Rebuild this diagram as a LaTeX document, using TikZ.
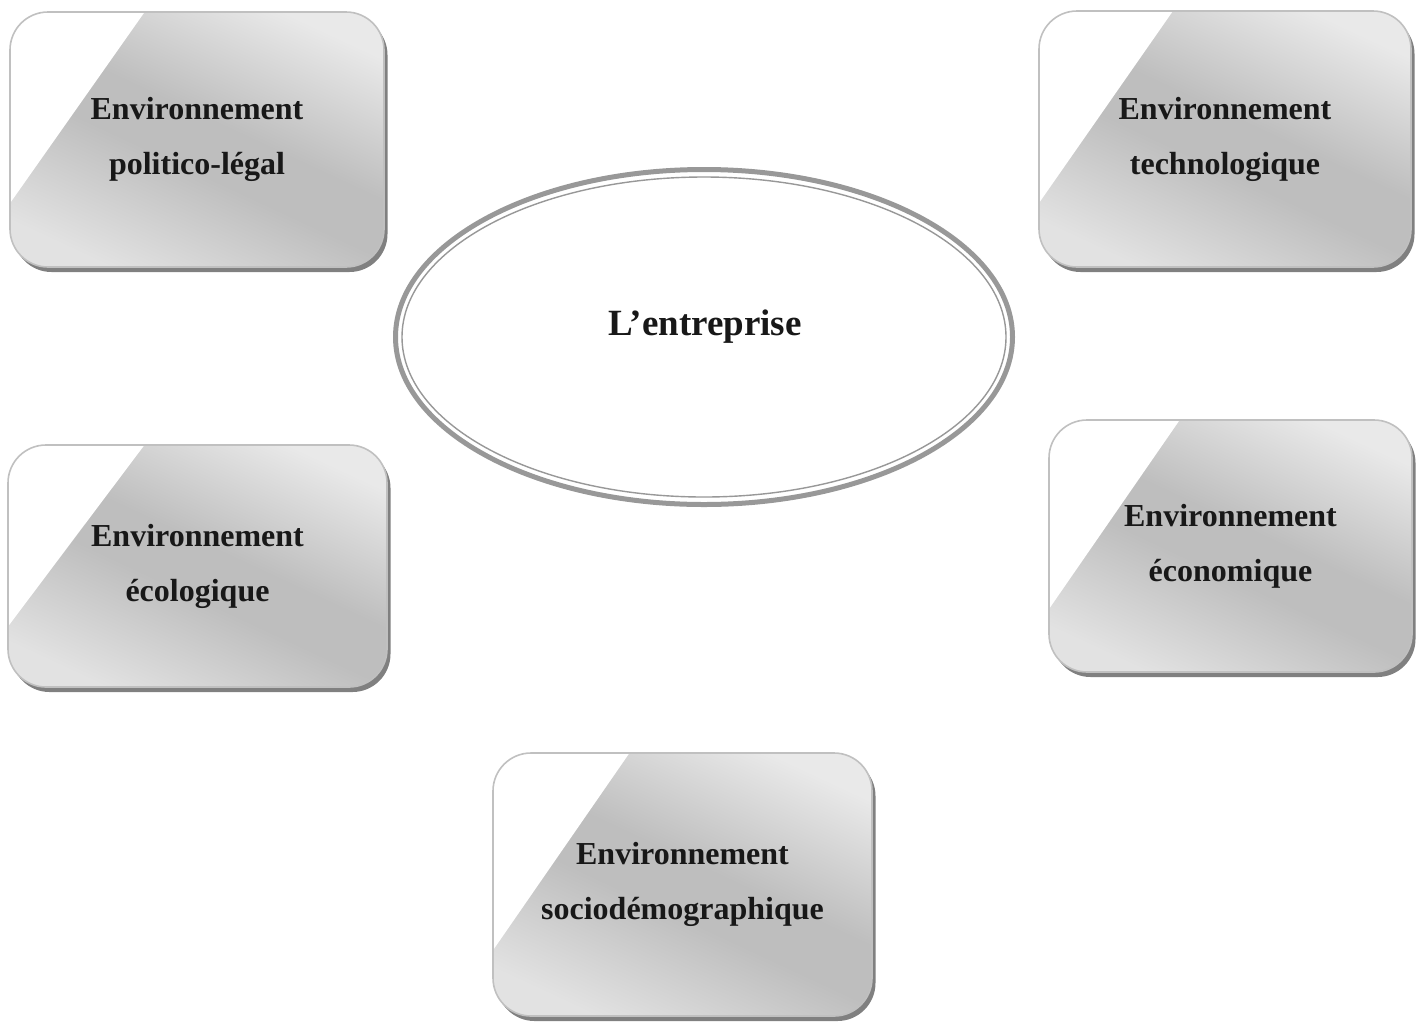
\documentclass[tikz,border=0pt]{standalone}
\usepackage{fontspec}
\setmainfont{Liberation Serif}
\usetikzlibrary{shapes.geometric,shadows,calc}

\definecolor{boxlight}{RGB}{233,233,233}
\definecolor{boxmid}{RGB}{190,190,190}
\definecolor{boxlow}{RGB}{226,226,226}
\definecolor{boxedge}{RGB}{192,192,192}
\definecolor{boxshade}{RGB}{128,128,128}
\definecolor{ringgray}{RGB}{152,152,152}
\definecolor{inktext}{RGB}{24,24,24}

% diagonal grey sheen of the boxes: light corners, darker band across the middle
\pgfdeclareverticalshading{envsheen}{100bp}{%
  color(0bp)=(boxlow); color(24bp)=(boxlow); color(45bp)=(boxmid);
  color(54bp)=(boxmid); color(76bp)=(boxlight); color(100bp)=(boxlight)}

\tikzset{
  envbox/.style={rectangle, rounded corners=38pt, draw=boxedge, line width=1.6pt,
    shading=envsheen, shading angle=-25,
    drop shadow={shadow xshift=3.5pt, shadow yshift=-5pt, fill=boxshade, opacity=1},
    path picture={
      \fill[white, sharp corners] (path picture bounding box.north west)
        -- ($(path picture bounding box.north west)!0.36!(path picture bounding box.north east)$)
        -- ($(path picture bounding box.north west)!0.75!(path picture bounding box.south west)$)
        -- cycle;},
    align=center, font=\bfseries\fontsize{32}{55}\selectfont, text=inktext, inner sep=0pt},
  ringline/.style={draw=ringgray},
  centrelabel/.style={font=\bfseries\fontsize{37}{44}\selectfont, text=inktext, inner sep=0pt},
}

\begin{document}
\begin{tikzpicture}[x={(1pt,0)}, y={(0,-1pt)}]
  \useasboundingbox (0,0) rectangle (1416,1021);

  % central ellipse with its double outline
  \node[ellipse, ringline, line width=5pt, fill=white,
        minimum width=617pt, minimum height=335pt, inner sep=0pt] (ent) at (704,337) {};
  \draw[ringline, line width=1.4pt] (ent.center) ellipse [x radius=302pt, y radius=160pt];
  \node[centrelabel] (entlabel) at (705,327) {L’entreprise};

  % surrounding environment boxes
  \node[envbox, minimum width=374pt, minimum height=255pt] (pol) at (197,139.5)
    {Environnement\\politico-légal};
  \node[envbox, minimum width=372pt, minimum height=256pt] (tech) at (1225,139)
    {Environnement\\technologique};
  \node[envbox, minimum width=379pt, minimum height=242pt] (ecol) at (197.5,566)
    {Environnement\\écologique};
  \node[envbox, minimum width=363pt, minimum height=252pt] (econ) at (1230.5,546)
    {Environnement\\économique};
  \node[envbox, minimum width=379pt, minimum height=263pt] (soc) at (682.5,884.5)
    {Environnement\\sociodémographique};
\end{tikzpicture}
\end{document}
